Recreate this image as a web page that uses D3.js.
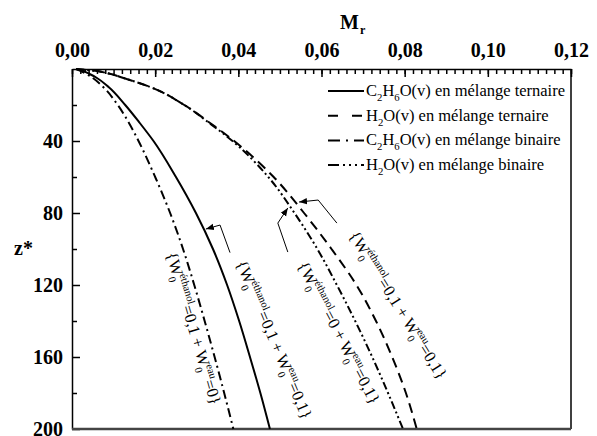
<!DOCTYPE html>
<html>
<head>
<meta charset="utf-8">
<script src="https://cdn.jsdelivr.net/npm/d3@7"></script>
<style>
  body { margin: 0; background: #fff; }
  svg { display: block; }
  text { font-family: "Liberation Serif", "Times New Roman", Times, "DejaVu Serif", serif; fill: #000; }
</style>
</head>
<body>
<svg id="chart" width="597" height="436"></svg>
<script>
// depth z* and the four profiles M_r
const zVals   = [0, 1, 2.5, 5, 10, 20, 30, 40, 60, 80, 100, 120, 140, 160, 180, 200];
const ethTern = [0.001, 0.0025, 0.0040, 0.0060, 0.0088, 0.0128, 0.0163, 0.0196, 0.0250, 0.0298, 0.0339, 0.0373, 0.0402, 0.0428, 0.0453, 0.0476];
const eauTern = [0.001, 0.0055, 0.0088, 0.0124, 0.0188, 0.0270, 0.0332, 0.0390, 0.0485, 0.0558, 0.0624, 0.0684, 0.0731, 0.0770, 0.0803, 0.0829];
const ethBin  = [0.001, 0.0020, 0.0033, 0.0050, 0.0075, 0.0110, 0.0137, 0.0160, 0.0200, 0.0236, 0.0267, 0.0294, 0.0319, 0.0343, 0.0366, 0.0388];
const eauBin  = [0.001, 0.0055, 0.0088, 0.0124, 0.0188, 0.0270, 0.0330, 0.0386, 0.0472, 0.0535, 0.0590, 0.0637, 0.0681, 0.0722, 0.0760, 0.0796];

const xTicks = [0, 0.02, 0.04, 0.06, 0.08, 0.10, 0.12];
const yTicks = [40, 80, 120, 160, 200];
const yMinor = [20, 60, 100, 140, 180];

const series = [
    { name: [["C"], ["2", "sub"], ["H"], ["6", "sub"], ["O(v) en mélange ternaire"]], values: ethTern, dash: null, legendDash: null },
    { name: [["H"], ["2", "sub"], ["O(v) en mélange ternaire"]], values: eauTern, dash: "10,6", legendDash: "10,14" },
    { name: [["C"], ["2", "sub"], ["H"], ["6", "sub"], ["O(v) en mélange binaire"]], values: ethBin, dash: "9,4,2,4", legendDash: "12,6,2,6" },
    { name: [["H"], ["2", "sub"], ["O(v) en mélange binaire"]], values: eauBin, dash: "8,3,2,3,2,3", legendDash: "11,4,2,4,2,4,2,4" }
];

// rotated annotations, in data units (M, z)
const notes = [
    { at: [0.0280, 145], angle: 73.6, text: [["{W"], ["0", "sub"], ["éthanol", "sup"], ["=0,1 + W"], ["0", "sub"], ["eau", "sup"], ["=0}"]] },
    { at: [0.0474, 151.5], angle: 67, text: [["{W"], ["0", "sub"], ["éthanol", "sup"], ["=0,1 + W"], ["0", "sub"], ["eau", "sup"], ["=0,1}"]] },
    { at: [0.0630, 148], angle: 62.3, text: [["{W"], ["0", "sub"], ["éthanol", "sup"], ["=0 + W"], ["0", "sub"], ["eau", "sup"], ["=0,1}"]] },
    { at: [0.0773, 132.8], angle: 58.2, text: [["{W"], ["0", "sub"], ["éthanol", "sup"], ["=0,1 + W"], ["0", "sub"], ["eau", "sup"], ["=0,1}"]] }
];
const arrows = [
    [[0.0380, 102], [0.0356, 86.7], [0.0322, 88.9]],
    [[0.0519, 101.7], [0.0495, 85.6], [0.0519, 77.2]],
    [[0.0637, 85.6], [0.0592, 72.8], [0.0546, 73.9]]
];

const svg = d3.select("#chart");
const mLeft = 72, mRight = 571, mTop = 69, mBottom = 429;

const x = d3.scaleLinear().domain([0, 0.12]).range([mLeft, mRight]);
const y = d3.scaleLinear().domain([0, 200]).range([mTop, mBottom]);
const fmt = d => d3.format(".2f")(d).replace(".", ",");

svg.append("defs").append("marker")
    .attr("id", "head")
    .attr("viewBox", "0 0 10 10")
    .attr("refX", 10).attr("refY", 5)
    .attr("markerWidth", 8).attr("markerHeight", 8)
    .attr("markerUnits", "userSpaceOnUse")
    .attr("orient", "auto")
    .append("path").attr("d", "M0,1 L10,5 L0,9 Z").attr("fill", "#000");

// top axis
svg.append("g")
    .attr("transform", `translate(0,${mTop})`)
    .call(d3.axisTop(x).tickValues(xTicks).tickFormat(fmt).tickSizeInner(-8).tickSizeOuter(0).tickPadding(12));
svg.append("g")
    .attr("transform", `translate(0,${mTop})`)
    .call(d3.axisTop(x).tickValues(d3.range(0, 61).map(i => i * 0.002)).tickFormat("").tickSizeInner(-5).tickSizeOuter(0))
    .select(".domain").remove();

// left axis
svg.append("g")
    .attr("transform", `translate(${mLeft},0)`)
    .call(d3.axisLeft(y).tickValues(yTicks).tickSizeInner(-8).tickSizeOuter(0).tickPadding(9));
svg.append("g")
    .attr("transform", `translate(${mLeft},0)`)
    .call(d3.axisLeft(y).tickValues(yMinor).tickFormat("").tickSizeInner(-5).tickSizeOuter(0))
    .select(".domain").remove();

svg.selectAll(".tick line, .domain").attr("stroke", "#000").attr("stroke-width", 1.5);
svg.selectAll(".tick text")
    .attr("font-weight", "bold")
    .attr("font-size", 20);

// right and bottom frame lines
svg.append("line").attr("x1", mRight).attr("x2", mRight).attr("y1", mTop).attr("y2", mBottom)
    .attr("stroke", "#000").attr("stroke-width", 1.5);
svg.append("line").attr("x1", mLeft).attr("x2", mRight).attr("y1", mBottom).attr("y2", mBottom)
    .attr("stroke", "#444").attr("stroke-width", 2.5);

// axis titles
const mt = svg.append("text").attr("x", 340).attr("y", 29)
    .attr("font-weight", "bold").attr("font-size", 20);
mt.append("tspan").text("M");
mt.append("tspan").attr("font-size", 12).attr("dy", 5).attr("dx", 1).text("r");

svg.append("text").attr("x", 14).attr("y", 255)
    .attr("font-weight", "bold").attr("font-size", 20).text("z*");

// curves
const line = d3.line()
    .x(d => x(d[0]))
    .y(d => y(d[1]))
    .curve(d3.curveMonotoneY);

series.forEach(s => {
    svg.append("path")
        .datum(s.values.map((v, i) => [v, zVals[i]]))
        .attr("fill", "none")
        .attr("stroke", "#000")
        .attr("stroke-width", 2)
        .attr("stroke-dasharray", s.dash)
        .attr("d", line);
});

// rich text helper: parts = [[text, "sub"|"sup"|undefined], ...]
function richText(sel, parts, size) {
    let lastSubW = 0, level = 0;
    parts.forEach(p => {
        const kind = p[1];
        const ts = sel.append("tspan").text(p[0]);
        let target = 0;
        if (kind === "sub") { target = size * 0.3; ts.attr("font-size", size * 0.65); }
        if (kind === "sup") { target = -size * 0.42; ts.attr("font-size", size * 0.65); ts.attr("dx", -lastSubW); }
        ts.attr("dy", target - level);
        level = target;
        if (kind === "sub") lastSubW = ts.node().getComputedTextLength();
        else lastSubW = 0;
    });
}

// legend
const legend = svg.append("g");
series.forEach((s, i) => {
    const ly = 91 + i * 24.7;
    legend.append("line")
        .attr("x1", 328).attr("x2", 364).attr("y1", ly).attr("y2", ly)
        .attr("stroke", "#000").attr("stroke-width", 2)
        .attr("stroke-dasharray", s.legendDash);
    const t = legend.append("text").attr("x", 366).attr("y", ly + 5).attr("font-size", 16.5);
    richText(t, s.name, 16.5);
});

// annotations
notes.forEach(n => {
    const t = svg.append("text")
        .attr("font-size", 16.5)
        .attr("text-anchor", "middle")
        .attr("transform", `translate(${x(n.at[0])},${y(n.at[1])}) rotate(${n.angle})`);
    richText(t, n.text, 16.5);
});

const aLine = d3.line().x(d => x(d[0])).y(d => y(d[1]));
arrows.forEach(a => {
    svg.append("path")
        .attr("d", aLine(a))
        .attr("fill", "none")
        .attr("stroke", "#000")
        .attr("stroke-width", 1)
        .attr("marker-end", "url(#head)");
});
</script>
</body>
</html>
